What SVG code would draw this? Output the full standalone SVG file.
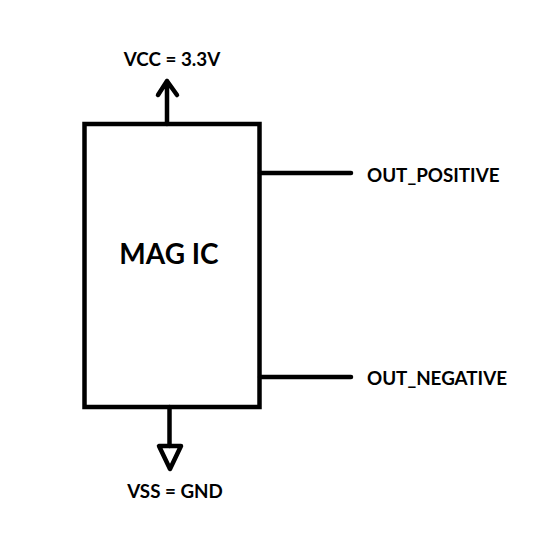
<svg xmlns="http://www.w3.org/2000/svg" width="557" height="541" viewBox="0 0 557 541">
<style>
.s{fill:none;stroke:#000;stroke-width:4.5;stroke-linecap:round;stroke-linejoin:round}
.t{font-family:Lato,sans-serif;font-weight:700;font-size:18.8px;fill:#000}
</style>
<rect width="557" height="541" fill="#fff"/>
<g id="connectors">
<path class="s" d="M167 124V81M158 95L167 81L177 95"/>
<path class="s" d="M169.500 407V446"/>
<path class="s" d="M159 446H181L170 469Z"/>
<path class="s" d="M260 173H351"/>
<path class="s" d="M260 377H351"/>
</g>
<g id="mag-ic">
<rect class="s" x="84.500" y="124" width="175" height="283" style="stroke-linejoin:miter"/>
<text x="169" y="264" text-anchor="middle" style="font-family:Lato,sans-serif;font-weight:700;font-size:28px">MAG IC</text>
</g>
<g id="vcc"><text class="t" x="172" y="66" text-anchor="middle">VCC = 3.3V</text></g>
<g id="vss"><text class="t" x="175" y="498" text-anchor="middle">VSS = GND</text></g>
<g id="out-positive"><text class="t" x="367" y="182">OUT_POSITIVE</text></g>
<g id="out-negative"><text class="t" x="367" y="385">OUT_NEGATIVE</text></g>
</svg>
